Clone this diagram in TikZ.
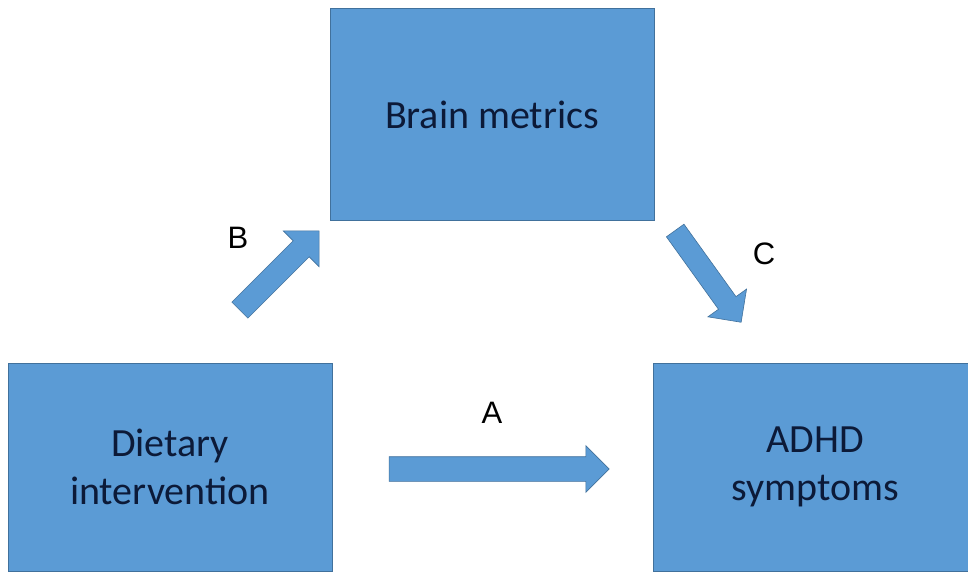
\documentclass[tikz,border=0pt]{standalone}
\usepackage{fontspec}
\setmainfont{Carlito}
\newfontfamily\lblfont{Liberation Sans}
\usetikzlibrary{shapes.arrows}
\definecolor{boxblue}{HTML}{5B9BD5}
\definecolor{boxedge}{HTML}{41719C}
\definecolor{boxtext}{HTML}{0C1A38}
\tikzset{
  box/.style={draw=boxedge, line width=1pt, fill=boxblue, text=boxtext, align=center,
    font=\fontsize{40}{48}\selectfont, inner sep=0pt},
  blockarrow/.style={single arrow, draw=boxedge, line width=0.6pt, fill=boxblue,
    single arrow tip angle=90, single arrow head indent=0pt,
    text height=0pt, text depth=0pt, text width=0pt, inner xsep=0pt},
  lbl/.style={font=\lblfont\fontsize{31}{36}\selectfont, text=black, inner sep=0pt}
}
\begin{document}
\begin{tikzpicture}[x=1pt, y=-1pt]
  \useasboundingbox (0,0) rectangle (968,572);
  \fill[white] (0,0) rectangle (968,572);
  % boxes
  \node[box, minimum width=324pt, minimum height=211pt] (brain) at (492,114.5) {Brain metrics};
  \node[box, minimum width=324pt, minimum height=208pt] (diet) at (170,467) {Dietary\\intervention};
  \begin{scope}
    \clip (0,0) rectangle (968,572);
    \node[box, minimum width=324pt, minimum height=208pt] (adhd) at (815,467) {ADHD\\symptoms};
  \end{scope}
  % block arrows
  \node[blockarrow, minimum height=220pt, minimum width=46pt, inner ysep=12pt,
        single arrow head extend=11pt] (arrA) at (493,469) {};
  \node[blockarrow, minimum height=112pt, minimum width=50pt, inner ysep=11pt,
        single arrow head extend=14pt, rotate=45] (arrB) at (275.5,274.5) {};
  \node[blockarrow, minimum height=113pt, minimum width=47pt, inner ysep=10.5pt,
        single arrow head extend=13pt, rotate=-54.3] (arrC) at (705,272) {};
  % labels
  \node[lbl] (lA) at (492,413) {A};
  \node[lbl] (lB) at (238,238) {B};
  \node[lbl] (lC) at (764,254) {C};
\end{tikzpicture}
\end{document}
